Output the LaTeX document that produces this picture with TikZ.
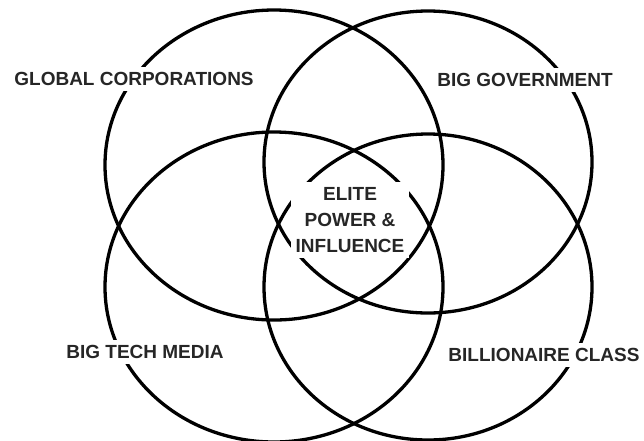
\documentclass[tikz,border=0pt]{standalone}
\usepackage{fontspec}
\setmainfont{Liberation Sans}
\usetikzlibrary{shapes.geometric}

\begin{document}
\begin{tikzpicture}[x=1pt, y=-1pt,
        ring/.style={draw, ellipse, line width=3.3pt, inner sep=0pt},
        tag/.style={fill=white, inner sep=5pt, align=center, text=black!85,
            font=\fontsize{19}{26}\selectfont\bfseries}]
        \useasboundingbox (0,0) rectangle (644,440);
        % the four circles
        \node[ring, minimum width=338, minimum height=310] (glob) at (274,165) {};
        \node[ring, minimum width=328, minimum height=302] (gov) at (428,162) {};
        \node[ring, minimum width=338, minimum height=310] (tech) at (274,287) {};
        \node[ring, minimum width=328, minimum height=306] (bill) at (428,287) {};
        % labels
        \node[tag] (globlabel) at (134,79) {GLOBAL CORPORATIONS};
        \node[tag] (govlabel) at (525,80) {BIG GOVERNMENT};
        \node[tag] (techlabel) at (145,352) {BIG TECH MEDIA};
        \node[tag] (billlabel) at (544,355) {BILLIONAIRE CLASS};
        \node[tag] (elite) at (350,220) {ELITE\\POWER \&\\INFLUENCE};
\end{tikzpicture}
\end{document}
